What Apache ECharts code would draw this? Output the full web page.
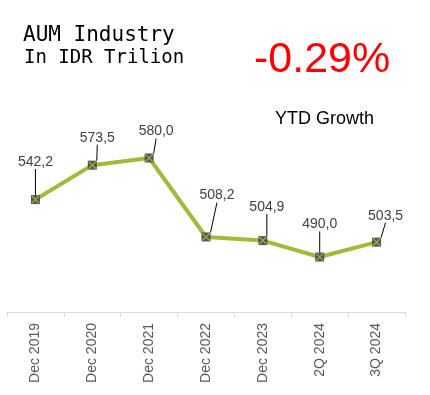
<!DOCTYPE html>
<html>
<head>
<meta charset="utf-8">
<script src="https://cdn.jsdelivr.net/npm/echarts@6/dist/echarts.min.js"></script>
<style>
html,body{margin:0;padding:0;background:#fff;}
#chart{width:430px;height:395px;}
</style>
</head>
<body>
<div id="chart"></div>
<script>
const categories = ['Dec 2019','Dec 2020','Dec 2021','Dec 2022','Dec 2023','2Q 2024','3Q 2024'];
const aumValues = [542.2, 573.5, 580.0, 508.2, 504.9, 490.0, 503.5];
const titleLines = ['AUM Industry', 'In IDR Trilion'];
const growthText = '-0.29%';
const growthCaption = 'YTD Growth';

// label offsets (style, not data)
const labelDx = [0, 5, 7, 11, 4, 0, 9];
const labelDy = [-21, -11, -10, -25, -17, -16, -10];

const fmt = v => v.toFixed(1).replace('.', ',');
const green = '#9EBB3B';

const chart = echarts.init(document.getElementById('chart'), null, {renderer:'canvas'});
chart.setOption({
  animation: false,
  backgroundColor: '#ffffff',
  grid: {left: 7, right: 25, top: 136, bottom: 83, containLabel: false},
  graphic: [
    {type:'text', left: 23, top: 25, style:{text: titleLines[0], font: '21px "DejaVu Sans Mono"', fill:'#000'}},
    {type:'text', left: 24, top: 49, style:{text: titleLines[1], font: '19px "DejaVu Sans Mono"', fill:'#000'}},
    {type:'text', left: 254, top: 39, style:{text: growthText, font: '43px "Liberation Sans"', fill:'#FF0000'}},
    {type:'text', left: 275, top: 110, style:{text: growthCaption, font: '18px "Liberation Sans"', fill:'#000'}}
  ],
  xAxis: {
    type: 'category',
    data: categories,
    boundaryGap: true,
    axisLine: {show: true, lineStyle: {color: '#d9d9d9', width: 1}},
    axisTick: {show: true, length: 5, lineStyle: {color: '#d9d9d9'}},
    axisLabel: {rotate: 90, margin: 11, color: '#595959', fontSize: 14, fontFamily: 'Liberation Sans'},
    splitLine: {show: false}
  },
  yAxis: {
    type: 'value', min: 440, max: 600, show: false, splitLine: {show: false}
  },
  series: [
    {
      type: 'line',
      data: aumValues,
      symbol: 'rect',
      symbolSize: 9,
      itemStyle: {color: '#555555'},
      lineStyle: {color: green, width: 4},
      z: 2,
      label: {
        show: true, position: 'top', distance: 5,
        color: '#404040', fontSize: 14, fontFamily: 'Liberation Sans',
        formatter: p => fmt(p.value)
      },
      labelLine: {show: true, lineStyle: {color: '#000', width: 1}},
      labelLayout: p => ({dx: labelDx[p.dataIndex], dy: labelDy[p.dataIndex]})
    },
    {
      type: 'line',
      data: aumValues,
      symbol: 'path://M0,1 L1,0 L10,9 L9,10 Z M9,0 L10,1 L1,10 L0,9 Z',
      symbolSize: 8,
      itemStyle: {color: green},
      lineStyle: {opacity: 0},
      silent: true,
      z: 3,
      label: {show: false}
    }
  ]
});
</script>
</body>
</html>
